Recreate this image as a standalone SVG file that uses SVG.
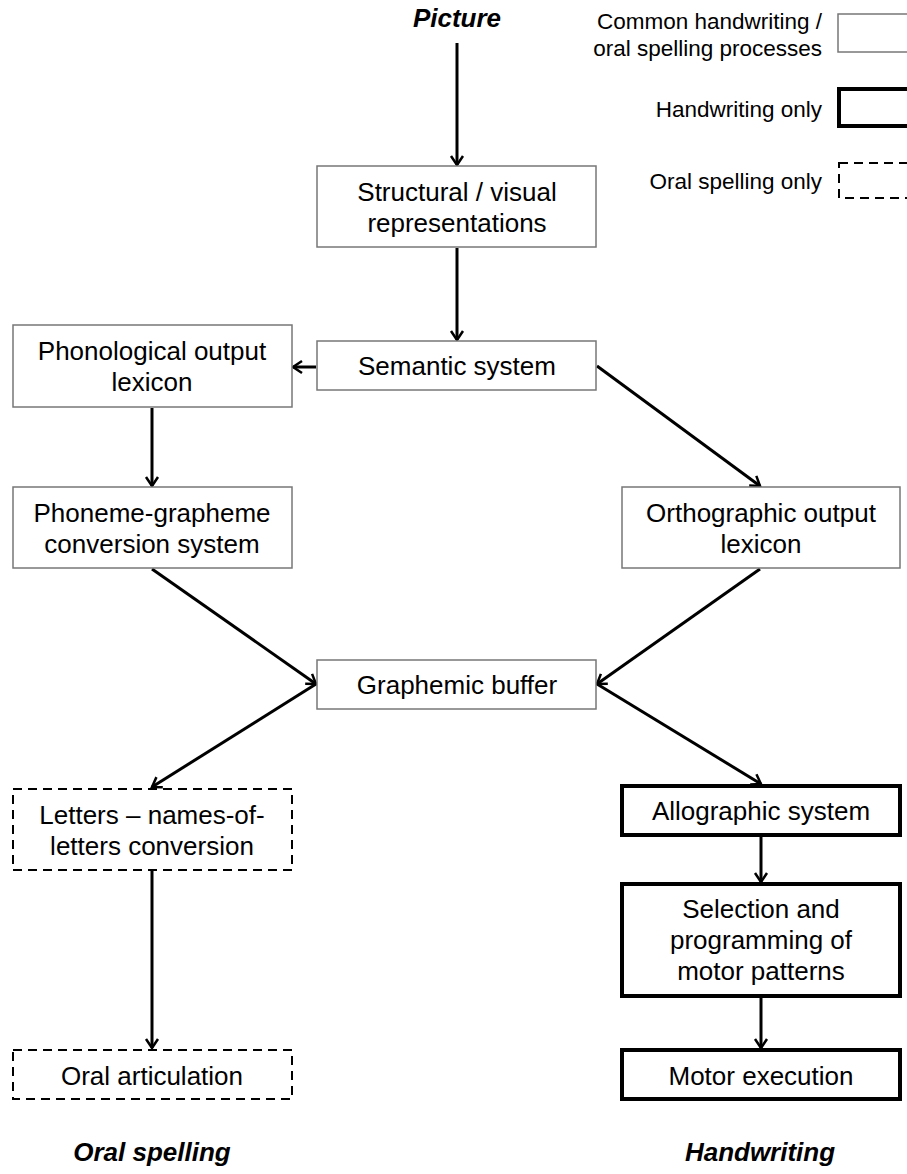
<svg xmlns="http://www.w3.org/2000/svg" width="907" height="1174" viewBox="0 0 907 1174">
<style>
  text { font-family: "Liberation Sans", Arial, sans-serif; fill: #000; }
  .t { font-size: 26px; text-anchor: middle; }
  .title { font-size: 26px; font-weight: bold; font-style: italic; text-anchor: middle; }
  .leg { font-size: 22.5px; text-anchor: end; }
  .common { fill: #fff; stroke: #777; stroke-width: 1.5; }
  .hand { fill: #fff; stroke: #000; stroke-width: 4; }
  .oral { fill: #fff; stroke: #000; stroke-width: 2; stroke-dasharray: 9 6; }
  .conn { stroke: #000; stroke-width: 3; fill: none; marker-end: url(#arr); }
</style>
<defs>
  <marker id="arr" markerUnits="userSpaceOnUse" markerWidth="16" markerHeight="16" viewBox="0 0 16 16" refX="13" refY="8" orient="auto">
    <path d="M4,2 L13,8 L4,14" fill="none" stroke="#000" stroke-width="2.5"/>
  </marker>
</defs>
<rect width="907" height="1174" fill="#fff"/>

<g id="legend">
  <text class="leg" x="822" y="29">Common handwriting /</text>
  <text class="leg" x="822" y="56">oral spelling processes</text>
  <rect class="common" x="838" y="14" width="80" height="38"/>
  <text class="leg" x="822" y="117">Handwriting only</text>
  <rect class="hand" x="839" y="89" width="80" height="37"/>
  <text class="leg" x="822" y="189">Oral spelling only</text>
  <rect class="oral" x="839" y="163" width="80" height="35"/>
</g>

<g id="labels">
  <text class="title" x="457" y="27">Picture</text>
  <text class="title" x="152" y="1161">Oral spelling</text>
  <text class="title" x="760" y="1161">Handwriting</text>
</g>

<g id="connectors">
  <line class="conn" x1="457" y1="43" x2="457" y2="165"/>
  <line class="conn" x1="457" y1="248" x2="457" y2="340"/>
  <line class="conn" x1="316" y1="367" x2="293" y2="367"/>
  <line class="conn" x1="597" y1="366" x2="760" y2="486"/>
  <line class="conn" x1="152" y1="408" x2="152" y2="486"/>
  <line class="conn" x1="152" y1="569" x2="316" y2="684"/>
  <line class="conn" x1="760" y1="569" x2="597" y2="684"/>
  <line class="conn" x1="316" y1="684" x2="152" y2="787"/>
  <line class="conn" x1="597" y1="684" x2="761" y2="784"/>
  <line class="conn" x1="152" y1="871" x2="152" y2="1048"/>
  <line class="conn" x1="761" y1="836" x2="761" y2="882"/>
  <line class="conn" x1="761" y1="998" x2="761" y2="1048"/>
</g>

<g id="structural">
  <rect class="common" x="317" y="166" width="279" height="81"/>
  <text class="t" x="457" y="201">Structural / visual</text>
  <text class="t" x="457" y="232">representations</text>
</g>
<g id="semantic">
  <rect class="common" x="317" y="341" width="279" height="49"/>
  <text class="t" x="457" y="375">Semantic system</text>
</g>
<g id="phonological">
  <rect class="common" x="13" y="325" width="279" height="82"/>
  <text class="t" x="152" y="360">Phonological output</text>
  <text class="t" x="152" y="391">lexicon</text>
</g>
<g id="phoneme">
  <rect class="common" x="13" y="487" width="279" height="81"/>
  <text class="t" x="152" y="522">Phoneme-grapheme</text>
  <text class="t" x="152" y="553">conversion system</text>
</g>
<g id="orthographic">
  <rect class="common" x="622" y="487" width="278" height="81"/>
  <text class="t" x="761" y="522">Orthographic output</text>
  <text class="t" x="761" y="553">lexicon</text>
</g>
<g id="graphemic">
  <rect class="common" x="317" y="660" width="279" height="49"/>
  <text class="t" x="457" y="694">Graphemic buffer</text>
</g>
<g id="letters">
  <rect class="oral" x="13" y="789" width="279" height="81"/>
  <text class="t" x="152" y="824">Letters – names-of-</text>
  <text class="t" x="152" y="855">letters conversion</text>
</g>
<g id="oralartic">
  <rect class="oral" x="13" y="1050" width="279" height="49"/>
  <text class="t" x="152" y="1085">Oral articulation</text>
</g>
<g id="allographic">
  <rect class="hand" x="622" y="786" width="278" height="49"/>
  <text class="t" x="761" y="820">Allographic system</text>
</g>
<g id="selection">
  <rect class="hand" x="622" y="884" width="278" height="112"/>
  <text class="t" x="761" y="918">Selection and</text>
  <text class="t" x="761" y="949">programming of</text>
  <text class="t" x="761" y="980">motor patterns</text>
</g>
<g id="motor">
  <rect class="hand" x="622" y="1050" width="278" height="49"/>
  <text class="t" x="761" y="1085">Motor execution</text>
</g>
</svg>
